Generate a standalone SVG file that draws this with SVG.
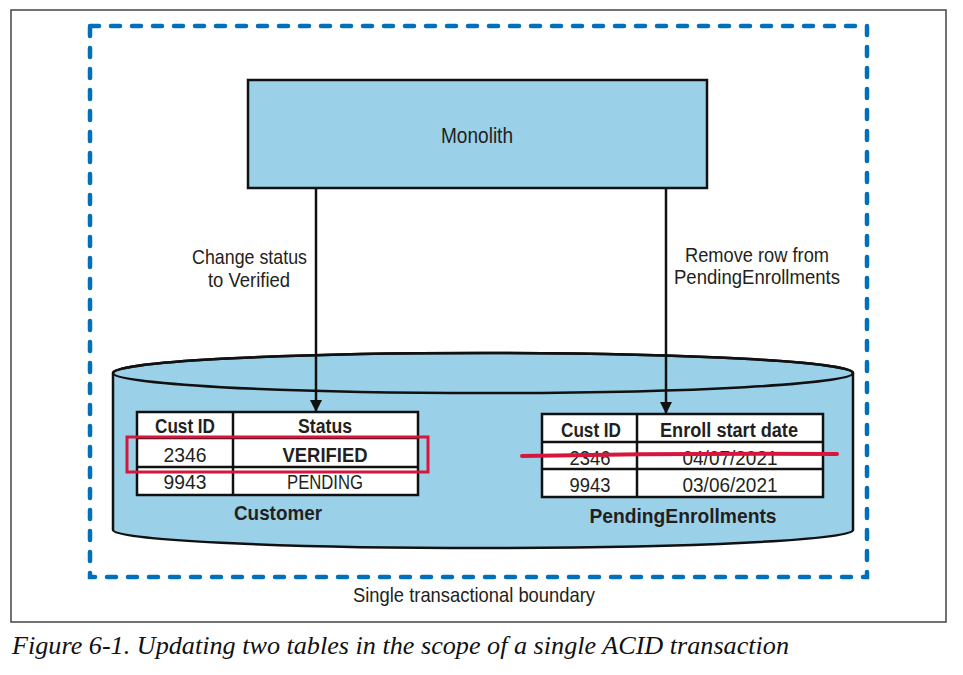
<svg xmlns="http://www.w3.org/2000/svg" width="963" height="675" viewBox="0 0 963 675">
<defs>
<style>
.t{font-family:"Liberation Sans",Arial,sans-serif;fill:#231f20;}
.b{font-weight:bold;}
.cell{fill:#fff;stroke:#111;stroke-width:2.5;}
.ln{stroke:#111;stroke-width:2.5;fill:none;}
.blue{fill:#9BD1E8;stroke:#111;stroke-width:2.5;}
</style>
<marker id="ah" viewBox="0 0 12 12" refX="12" refY="6" markerWidth="12" markerHeight="12" markerUnits="userSpaceOnUse" orient="auto">
<path d="M0,0 L12,6 L0,12 Z" fill="#111"/>
</marker>
</defs>
<rect x="0" y="0" width="963" height="675" fill="#fff"/>
<rect x="11" y="10" width="935" height="612" fill="none" stroke="#444" stroke-width="1.5"/>
<g id="boundary">
<rect x="90" y="26" width="777" height="551" fill="none" stroke="#0070BA" stroke-width="4.5" stroke-dasharray="9 12" stroke-linecap="round"/>
<text class="t" x="474" y="602" font-size="21" text-anchor="middle" textLength="242" lengthAdjust="spacingAndGlyphs">Single transactional boundary</text>
</g>
<g id="monolith">
<rect class="blue" x="248" y="80" width="459" height="108"/>
<text class="t" x="477" y="143" font-size="22" text-anchor="middle" textLength="72" lengthAdjust="spacingAndGlyphs">Monolith</text>
</g>
<g id="database">
<path class="blue" d="M113,373 L113,530 A370,18 0 0 0 853,530 L853,373 A370,20 0 0 0 113,373 Z"/>
<ellipse class="ln" cx="483" cy="373" rx="370" ry="20"/>
</g>
<g id="customer">
<rect class="cell" x="137" y="412" width="281" height="83"/>
<line class="ln" x1="137" y1="438" x2="418" y2="438"/>
<line class="ln" x1="137" y1="467" x2="418" y2="467"/>
<line class="ln" x1="233" y1="412" x2="233" y2="495"/>
<text class="t b" x="185" y="433" font-size="20" text-anchor="middle" textLength="60" lengthAdjust="spacingAndGlyphs">Cust ID</text>
<text class="t b" x="325" y="433" font-size="20" text-anchor="middle" textLength="54" lengthAdjust="spacingAndGlyphs">Status</text>
<text class="t" x="185" y="462" font-size="20" text-anchor="middle" textLength="43" lengthAdjust="spacingAndGlyphs">2346</text>
<text class="t b" x="325" y="462" font-size="20" text-anchor="middle" textLength="85" lengthAdjust="spacingAndGlyphs">VERIFIED</text>
<text class="t" x="185" y="489" font-size="20" text-anchor="middle" textLength="43" lengthAdjust="spacingAndGlyphs">9943</text>
<text class="t" x="325" y="489" font-size="20" text-anchor="middle" textLength="76" lengthAdjust="spacingAndGlyphs">PENDING</text>
<text class="t b" x="278" y="520" font-size="21" text-anchor="middle" textLength="88" lengthAdjust="spacingAndGlyphs">Customer</text>
<rect x="127" y="437" width="301" height="35" fill="none" stroke="#D6163D" stroke-width="3"/>
</g>
<g id="pending">
<rect class="cell" x="542" y="414" width="281" height="83"/>
<line class="ln" x1="542" y1="442" x2="823" y2="442"/>
<line class="ln" x1="542" y1="469" x2="823" y2="469"/>
<line class="ln" x1="637" y1="414" x2="637" y2="497"/>
<text class="t b" x="591" y="437" font-size="20" text-anchor="middle" textLength="60" lengthAdjust="spacingAndGlyphs">Cust ID</text>
<text class="t b" x="729" y="437" font-size="20" text-anchor="middle" textLength="138" lengthAdjust="spacingAndGlyphs">Enroll start date</text>
<text class="t" x="590" y="465" font-size="20" text-anchor="middle" textLength="41" lengthAdjust="spacingAndGlyphs">2346</text>
<text class="t" x="730" y="465" font-size="20" text-anchor="middle" textLength="95" lengthAdjust="spacingAndGlyphs">04/07/2021</text>
<text class="t" x="590" y="492" font-size="20" text-anchor="middle" textLength="41" lengthAdjust="spacingAndGlyphs">9943</text>
<text class="t" x="730" y="492" font-size="20" text-anchor="middle" textLength="95" lengthAdjust="spacingAndGlyphs">03/06/2021</text>
<text class="t b" x="683" y="523" font-size="21" text-anchor="middle" textLength="187" lengthAdjust="spacingAndGlyphs">PendingEnrollments</text>
<path d="M522,456 Q680,453 837,454" fill="none" stroke="#D6163D" stroke-width="4" stroke-linecap="round"/>
</g>
<g id="connectors">
<line class="ln" x1="316" y1="188" x2="316" y2="412" marker-end="url(#ah)"/>
<line class="ln" x1="666" y1="188" x2="666" y2="414" marker-end="url(#ah)"/>
<text class="t" x="249.5" y="264" font-size="21" text-anchor="middle" textLength="115" lengthAdjust="spacingAndGlyphs">Change status</text>
<text class="t" x="249" y="287" font-size="21" text-anchor="middle" textLength="82" lengthAdjust="spacingAndGlyphs">to Verified</text>
<text class="t" x="757" y="262" font-size="21" text-anchor="middle" textLength="144" lengthAdjust="spacingAndGlyphs">Remove row from</text>
<text class="t" x="757" y="284" font-size="21" text-anchor="middle" textLength="166" lengthAdjust="spacingAndGlyphs">PendingEnrollments</text>
</g>
<text x="12" y="654" font-family="'Liberation Serif','Times New Roman',serif" font-style="italic" font-size="25" fill="#111" textLength="777" lengthAdjust="spacingAndGlyphs">Figure 6-1. Updating two tables in the scope of a single ACID transaction</text>
</svg>
